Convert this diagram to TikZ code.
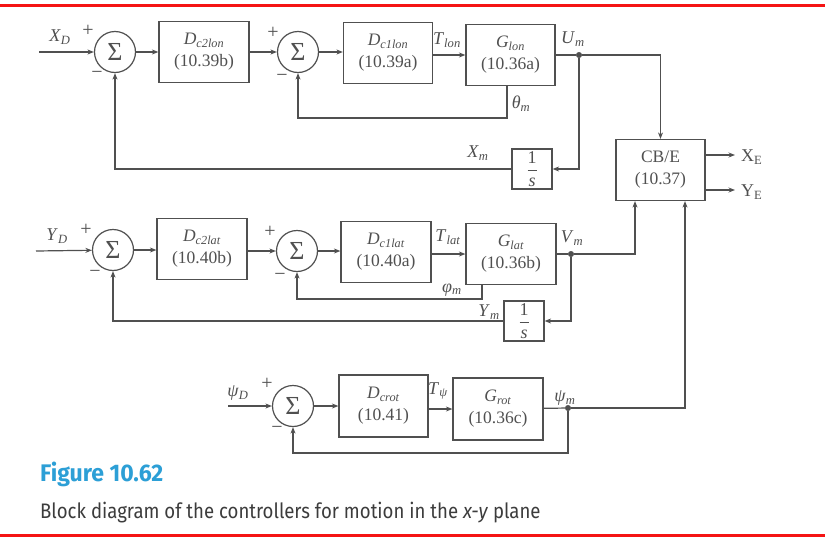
\documentclass[tikz,border=0pt]{standalone}
\usepackage{fontspec}
\usepackage{graphicx}
\setmainfont{Liberation Serif}
\newfontfamily\capfont{Fira Sans}
\usetikzlibrary{arrows.meta}
\definecolor{ln}{HTML}{505050}
\definecolor{figblue}{HTML}{2C9FD6}
\definecolor{capgray}{HTML}{3C3C3C}
\definecolor{redline}{HTML}{F51414}
\newcommand\sbs[2]{\textit{#1}\textsubscript{\textit{#2}}}
\begin{document}
\begin{tikzpicture}[x=1pt,y=-1pt,
  blk/.style={draw=ln, line width=1.2pt, align=center, inner sep=0pt, text=ln,
    font=\fontsize{17.5}{22}\selectfont},
  sumc/.style={circle, draw=ln, line width=1.2pt, minimum size=41pt, inner sep=0pt,
    text=ln, font=\fontsize{26}{26}\selectfont},
  sig/.style={draw=ln, line width=1.2pt, -{Stealth[length=6.5pt,width=5pt]}},
  wire/.style={draw=ln, line width=1.2pt},
  lbl/.style={text=ln, inner sep=0pt, font=\fontsize{18}{18}\selectfont},
  sgn/.style={text=ln, inner sep=0pt, font=\fontsize{20}{20}\selectfont},
  jdot/.style={circle, fill=ln, draw=ln, inner sep=0pt, minimum size=5.5pt}]
\useasboundingbox (0,0) rectangle (825,541);
\fill[white] (0,0) rectangle (825,541);
% red rules
\draw[redline, line width=3pt] (0,5) -- (825,5);
\draw[redline, line width=3pt] (0,535) -- (825,535);

% ---------- row 1 (longitudinal) ----------
\coordinate (xdin) at (39,52);
\node[sumc] (s1a) at (115,52) {Σ};
\node[blk, minimum width=90pt, minimum height=61pt] (dc2lon) at (204,52) {\sbs{D}{c2lon}\\(10.39b)};
\node[sumc] (s2a) at (298,52) {Σ};
\node[blk, minimum width=89pt, minimum height=61pt] (dc1lon) at (388,53) {\sbs{D}{c1lon}\\(10.39a)};
\node[blk, minimum width=89pt, minimum height=61pt] (glon) at (510.5,55) {\sbs{G}{lon}\\(10.36a)};
\node[jdot] (um) at (579,55) {};
\node[blk, minimum width=40pt, minimum height=40pt, font=\fontsize{18}{18}\selectfont] (inv1) at (532,169) {$\displaystyle\frac{\mbox{1}}{\mbox{\itshape s}}$};
\coordinate (thf) at (507,118);

\node[blk, minimum width=89pt, minimum height=61pt] (cbe) at (660.5,170) {CB/E\\(10.37)};

\draw[sig] (xdin) -- (s1a);
\draw[sig] (s1a) -- (dc2lon);
\draw[sig] (dc2lon) -- (s2a);
\draw[sig] (s2a) -- (dc1lon.west |- s2a);
\draw[sig] (dc1lon.east |- glon) -- (glon);
\draw[wire] (glon) -- (um);
\draw[sig] (um) -| (cbe);
\draw[sig] (um) |- (inv1);
\draw[sig] (inv1) -| (s1a);
\draw[sig] (glon.south -| thf) -- (thf) -| (s2a);

\node[lbl] (lxd) at (60,37) {\sbs{X}{D}};
\node[sgn] (p1a) at (88,31) {+};
\node[sgn] (m1a) at (97,75) {−};
\node[sgn] (p2a) at (273,33) {+};
\node[sgn] (m2a) at (282,78) {−};
\node[lbl] (ltlon) at (447,40) {\sbs{T}{lon}};
\node[lbl] (lum) at (573,39) {\sbs{U}{m}};
\node[lbl] (lth) at (521,104) {\sbs{θ}{m}};
\node[lbl] (lxm) at (478,153) {\sbs{X}{m}};

% ---------- row 2 (lateral) ----------
\coordinate (ydin) at (36,251);
\node[sumc] (s1b) at (113,250) {Σ};
\node[blk, minimum width=90pt, minimum height=61pt] (dc2lat) at (202,249) {\sbs{D}{c2lat}\\(10.40b)};
\node[sumc] (s2b) at (297,251) {Σ};
\node[blk, minimum width=90pt, minimum height=61pt] (dc1lat) at (386,252) {\sbs{D}{c1lat}\\(10.40a)};
\node[blk, minimum width=90pt, minimum height=61pt] (glat) at (511,254) {\sbs{G}{lat}\\(10.36b)};
\node[jdot] (vm) at (571,254) {};
\node[blk, minimum width=40pt, minimum height=40pt, font=\fontsize{18}{18}\selectfont] (inv2) at (524,321) {$\displaystyle\frac{\mbox{1}}{\mbox{\itshape s}}$};
\coordinate (phf) at (482,299);
\coordinate (cbv) at (635,254);

\draw[sig] (ydin) -- (s1b);
\draw[sig] (s1b) -- (dc2lat.west |- s1b);
\draw[sig] (dc2lat.east |- s2b) -- (s2b);
\draw[sig] (s2b) -- (dc1lat.west |- s2b);
\draw[sig] (dc1lat.east |- glat) -- (glat);
\draw[wire] (glat) -- (vm);
\draw[sig] (vm) -| (cbe.south -| cbv);
\draw[sig] (vm) |- (inv2);
\draw[sig] (inv2) -| (s1b);
\draw[sig] (glat.south -| phf) -- (phf) -| (s2b);

\node[lbl] (lyd) at (57,236) {\sbs{Y}{D}};
\node[sgn] (p1b) at (86,230) {+};
\node[sgn] (m1b) at (95,274) {−};
\node[sgn] (p2b) at (270,232) {+};
\node[sgn] (m2b) at (280,277) {−};
\node[lbl] (ltlat) at (448,237) {\sbs{T}{lat}};
\node[lbl] (lvm) at (572,238) {\sbs{V}{m}};
\node[lbl] (lph) at (452,290) {\sbs{φ}{m}};
\node[lbl] (lym) at (489,312) {\sbs{Y}{m}};

% ---------- row 3 (rotation) ----------
\coordinate (psin) at (228,406);
\node[sumc] (s1c) at (293,406) {Σ};
\node[blk, minimum width=89pt, minimum height=62pt] (dcrot) at (383.5,406) {\sbs{D}{crot}\\(10.41)};
\node[blk, minimum width=90pt, minimum height=62pt] (grot) at (498,409) {\sbs{G}{rot}\\(10.36c)};
\node[jdot] (psim) at (568,408) {};
\coordinate (pff) at (568,453);
\coordinate (cbp) at (685,408);

\draw[sig] (psin) -- (s1c);
\draw[sig] (s1c) -- (dcrot.west |- s1c);
\draw[sig] (dcrot.east |- grot) -- (grot);
\draw[wire] (grot) -- (psim);
\draw[sig] (psim) -| (cbe.south -| cbp);
\draw[sig] (psim) -- (pff) -| (s1c);

\node[lbl] (lpd) at (238,393) {\sbs{ψ}{D}};
\node[sgn] (p1c) at (267,384) {+};
\node[sgn] (m1c) at (277,430) {−};
\node[lbl] (ltp) at (438,391) {\sbs{T}{ψ}};
\node[lbl] (lpm) at (565,398) {\sbs{ψ}{m}};

% ---------- outputs ----------
\node[lbl, anchor=west, font=\fontsize{18}{18}\selectfont] (xe) at (741,157) {X\textsubscript{E}};
\node[lbl, anchor=west, font=\fontsize{18}{18}\selectfont] (ye) at (741,192) {Y\textsubscript{E}};
\coordinate (xet) at (735,155);
\coordinate (yet) at (735,190);
\draw[sig] (cbe.east |- xet) -- (xet);
\draw[sig] (cbe.east |- yet) -- (yet);

% ---------- caption ----------
\node[anchor=base west, inner sep=0pt, text=figblue, font=\capfont\bfseries\fontsize{24}{24}\selectfont] (fig) at (40,481) {\scalebox{0.96}[1]{Figure 10.62}};
\node[anchor=base west, inner sep=0pt, text=capgray, font=\capfont\fontsize{21}{21}\selectfont] (cap) at (40,518) {\scalebox{0.885}[1]{Block diagram of the controllers for motion in the \textit{x-y} plane}};
\end{tikzpicture}
\end{document}
